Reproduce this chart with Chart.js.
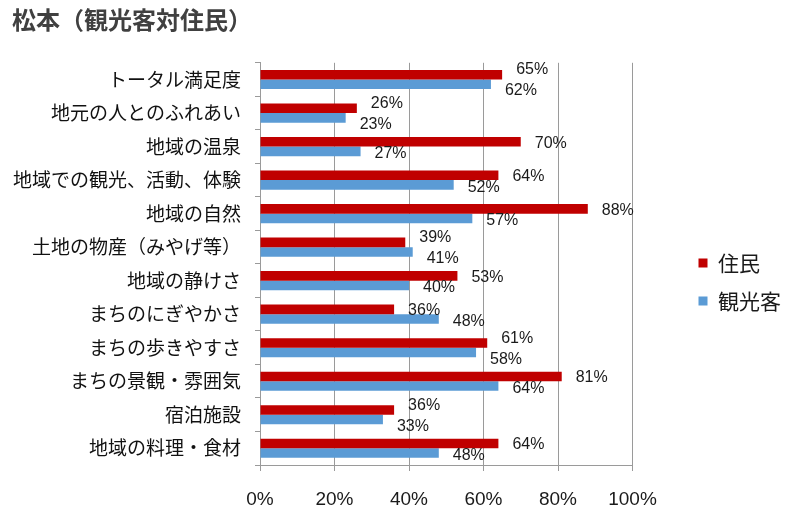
<!DOCTYPE html>
<html>
<head>
<meta charset="utf-8">
<script src="https://cdn.jsdelivr.net/npm/chart.js@4"></script>
<style>
html,body{margin:0;padding:0;background:#fff;}
#wrap{width:800px;height:516px;}
</style>
</head>
<body>
<div id="wrap"><canvas id="c" width="800" height="516"></canvas></div>
<script>
const titleText = '松本（観光客対住民）';
const categories = ['トータル満足度','地元の人とのふれあい','地域の温泉','地域での観光、活動、体験','地域の自然','土地の物産（みやげ等）','地域の静けさ','まちのにぎやかさ','まちの歩きやすさ','まちの景観・雰囲気','宿泊施設','地域の料理・食材'];
const seriesNames = ['住民','観光客'];
const residents = [65,26,70,64,88,39,53,36,61,81,36,64];
const tourists  = [62,23,27,52,57,41,40,48,58,64,33,48];
const xTicks = [0,20,40,60,80,100];

const valueLabels = {
  id: 'valueLabels',
  afterDatasetsDraw(chart) {
    const ctx = chart.ctx;
    ctx.save();
    ctx.font = '16px "Liberation Sans", Arial, sans-serif';
    ctx.fillStyle = '#1a1a1a';
    ctx.textAlign = 'left';
    ctx.textBaseline = 'middle';
    const m0 = chart.getDatasetMeta(0), m1 = chart.getDatasetMeta(1);
    const vals = [residents, tourists];
    categories.forEach((c, i) => {
      const a = m0.data[i], b = m1.data[i];
      const ta = vals[0][i] + '%', tb = vals[1][i] + '%';
      const wa = ctx.measureText(ta).width, wb = ctx.measureText(tb).width;
      const xa = a.x + 14, xb = b.x + 14;
      let ya = a.y + 1.5, yb = b.y + 2.5;
      if (xa < xb + wb && xb < xa + wa) {
        const mid = (a.y + b.y) / 2 + 1;
        ya = mid - 10.5; yb = mid + 10.5;
      }
      ctx.fillText(ta, xa, ya);
      ctx.fillText(tb, xb, yb);
    });
    ctx.restore();
  }
};

new Chart(document.getElementById('c'), {
  type: 'bar',
  data: {
    labels: categories,
    datasets: [
      { label: seriesNames[0], data: residents, backgroundColor: '#C00000', borderWidth: 0 },
      { label: seriesNames[1], data: tourists, backgroundColor: '#5B9BD5', borderWidth: 0 }
    ]
  },
  options: {
    indexAxis: 'y',
    responsive: false,
    animation: false,
    devicePixelRatio: 1,
    datasets: { bar: { categoryPercentage: 0.57, barPercentage: 1.0 } },
    layout: { padding: { left: 12, right: 9, top: 0, bottom: 0 }, autoPadding: false },
    plugins: {
      title: {
        display: true, text: titleText, align: 'start', color: '#404040',
        font: { family: '"Noto Sans CJK JP", sans-serif', size: 24, weight: 'bold' },
        padding: { top: 5, bottom: 29 }
      },
      legend: {
        position: 'right', align: 'center',
        title: { display: true, text: ' ', font: { size: 10 }, padding: { top: 18, bottom: 18 } },
        labels: {
          boxWidth: 9, boxHeight: 9, padding: 17, color: '#1a1a1a',
          font: { family: '"Noto Sans CJK JP", sans-serif', size: 21 }
        }
      },
      tooltip: { enabled: false }
    },
    scales: {
      x: {
        min: 0, max: 100,
        afterBuildTicks(s) { s.ticks = xTicks.map(v => ({ value: v })); },
        ticks: {
          callback: v => v + '%', color: '#1a1a1a', padding: 17, maxRotation: 0,
          font: { family: '"Liberation Sans", Arial, sans-serif', size: 19 }
        },
        grid: { color: '#9a9a9a', lineWidth: 1, tickLength: 6, drawTicks: true },
        border: { display: true, color: '#9a9a9a', width: 1 },
        afterFit(s) { s.height = 51; }
      },
      y: {
        ticks: {
          color: '#111', padding: 14,
          font: { family: '"Noto Sans CJK JP", sans-serif', size: 19 }
        },
        grid: { drawOnChartArea: false, color: '#9a9a9a', tickLength: 5, offset: true },
        border: { display: true, color: '#9a9a9a', width: 1 },
        afterFit(s) { s.width = 248; }
      },
      yGap: {
        type: 'linear', position: 'right', display: true,
        ticks: { display: false },
        grid: { display: false, drawTicks: false },
        border: { display: false },
        afterFit(s) { s.width = 49; }
      }
    }
  },
  plugins: [valueLabels]
});
</script>
</body>
</html>
